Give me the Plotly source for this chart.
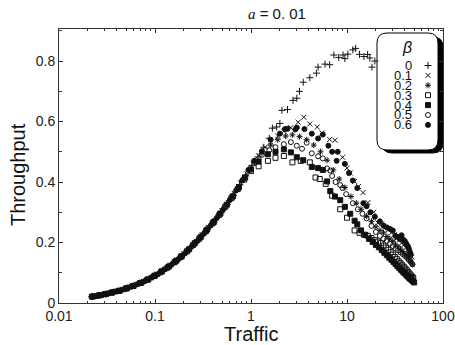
import plotly.graph_objects as go

# ---------------- data ----------------
betas = ["0", "0.1", "0.2", "0.3", "0.4", "0.5", "0.6"]
symbols = ["cross-thin", "x-thin", "asterisk", "square-open", "square", "circle-open", "circle"]

x0 = [0.022, 0.026, 0.031, 0.037, 0.044, 0.052, 0.062, 0.073, 0.087, 0.10, 0.12, 0.14, 0.165, 0.19, 0.22,
      0.26, 0.30, 0.35, 0.41, 0.48, 0.56, 0.65, 0.76, 0.88, 1.02, 1.18, 1.36, 1.55, 1.67, 1.85, 2.0, 2.1,
      2.4, 2.74, 3.0, 3.2, 3.5, 4.1, 4.8, 5.0, 5.9, 6.6, 7.3, 8.2, 9.1, 9.5, 10.2, 11.5, 12.3, 13.5, 15.0,
      16.4, 17.3, 18.2, 19.5]
y0 = [0.021, 0.025, 0.030, 0.036, 0.042, 0.050, 0.059, 0.068, 0.080, 0.092, 0.108, 0.121, 0.138, 0.156, 0.175,
      0.199, 0.221, 0.246, 0.270, 0.298, 0.327, 0.357, 0.392, 0.423, 0.455, 0.483, 0.515, 0.545, 0.578, 0.582,
      0.594, 0.637, 0.640, 0.670, 0.677, 0.700, 0.730, 0.745, 0.760, 0.780, 0.790, 0.788, 0.820, 0.812, 0.820,
      0.808, 0.823, 0.837, 0.842, 0.822, 0.815, 0.822, 0.810, 0.780, 0.800]

x1 = [0.023, 0.027, 0.032, 0.038, 0.046, 0.054, 0.064, 0.076, 0.09, 0.105, 0.125, 0.145, 0.17, 0.20, 0.23,
      0.27, 0.31, 0.36, 0.42, 0.50, 0.58, 0.67, 0.78, 0.90, 1.05, 1.20, 1.40, 1.60, 1.90, 2.2, 2.6, 3.1,
      3.55, 4.1, 4.9, 5.5, 6.6, 7.5, 9.0, 10.0, 10.8, 12.0, 13.2, 14.7, 16.5, 19.0, 21.0, 23.0, 25.0, 27.0,
      29.0, 31.0, 33.0, 35.0, 37.0, 39.0, 41.0, 43.0, 44.5, 46.0, 47.5]
y1 = [0.022, 0.026, 0.031, 0.037, 0.044, 0.052, 0.061, 0.071, 0.083, 0.095, 0.111, 0.125, 0.142, 0.163, 0.181,
      0.204, 0.226, 0.250, 0.273, 0.305, 0.332, 0.362, 0.397, 0.427, 0.462, 0.487, 0.515, 0.532, 0.552, 0.568,
      0.580, 0.598, 0.614, 0.592, 0.582, 0.562, 0.541, 0.538, 0.482, 0.446, 0.430, 0.402, 0.385, 0.365, 0.332,
      0.300, 0.265, 0.262, 0.250, 0.242, 0.232, 0.226, 0.214, 0.208, 0.198, 0.192, 0.183, 0.176, 0.168, 0.160,
      0.152]

x2 = [0.022, 0.025, 0.029, 0.034, 0.040, 0.048, 0.057, 0.068, 0.080, 0.095, 0.11, 0.13, 0.155, 0.18, 0.21,
      0.245, 0.285, 0.33, 0.39, 0.45, 0.52, 0.61, 0.71, 0.83, 0.96, 1.10, 1.30, 1.60, 1.90, 2.3, 2.7, 3.2,
      3.8, 4.5, 5.3, 6.2, 7.2, 8.3, 9.5, 11.0, 12.5, 14.0, 16.0, 18.0, 20.0, 22.0, 24.0, 26.0, 28.0, 30.0,
      32.0, 34.0, 36.0, 38.0, 40.0, 42.0, 44.0, 46.0, 48.0]
y2 = [0.020, 0.024, 0.028, 0.033, 0.039, 0.046, 0.055, 0.064, 0.074, 0.087, 0.099, 0.114, 0.132, 0.148, 0.167,
      0.189, 0.210, 0.234, 0.260, 0.285, 0.312, 0.344, 0.374, 0.410, 0.440, 0.468, 0.495, 0.522, 0.540, 0.552,
      0.556, 0.550, 0.540, 0.522, 0.500, 0.472, 0.440, 0.410, 0.382, 0.352, 0.330, 0.310, 0.287, 0.270, 0.252,
      0.240, 0.232, 0.220, 0.212, 0.204, 0.192, 0.186, 0.178, 0.170, 0.162, 0.155, 0.146, 0.138, 0.128]

x3 = [0.022, 0.026, 0.030, 0.035, 0.042, 0.050, 0.059, 0.070, 0.083, 0.098, 0.115, 0.135, 0.16, 0.185, 0.215,
      0.25, 0.29, 0.34, 0.40, 0.47, 0.54, 0.63, 0.73, 0.85, 1.00, 1.20, 1.50, 1.80, 2.2, 2.7, 3.3, 4.1,
      4.7, 5.2, 6.0, 7.0, 8.5, 10.0, 12.0, 13.5, 15.0, 16.5, 18.0, 19.5, 21.0, 22.5, 24.0, 25.5, 27.0, 28.5,
      30.0, 31.5, 33.0, 34.5, 36.0, 37.5, 39.0, 40.5, 42.0, 43.5, 45.0, 46.5, 48.0, 49.0]
y3 = [0.021, 0.025, 0.029, 0.034, 0.040, 0.048, 0.056, 0.066, 0.077, 0.089, 0.102, 0.117, 0.135, 0.152, 0.171,
      0.192, 0.213, 0.238, 0.265, 0.292, 0.318, 0.348, 0.377, 0.408, 0.436, 0.452, 0.470, 0.480, 0.486, 0.465,
      0.470, 0.465, 0.415, 0.410, 0.394, 0.355, 0.310, 0.282, 0.240, 0.232, 0.226, 0.222, 0.215, 0.208, 0.203,
      0.198, 0.190, 0.183, 0.176, 0.168, 0.160, 0.152, 0.146, 0.138, 0.132, 0.126, 0.120, 0.114, 0.108, 0.102,
      0.097, 0.091, 0.086, 0.082]

x4 = [0.023, 0.027, 0.031, 0.036, 0.043, 0.051, 0.060, 0.072, 0.085, 0.10, 0.118, 0.14, 0.165, 0.19, 0.225,
      0.26, 0.30, 0.35, 0.41, 0.48, 0.56, 0.65, 0.75, 0.87, 1.0, 1.2, 1.5, 1.8, 2.2, 2.6, 3.0, 3.5, 4.3,
      5.0, 5.6, 6.2, 6.7, 7.5, 8.5, 9.5, 10.8, 12.0, 12.8, 14.0, 15.5, 17.0, 18.5, 20.0, 21.5, 23.0, 24.5,
      26.0, 27.5, 29.0, 30.5, 32.0, 33.5, 35.0, 36.5, 38.0, 39.5, 41.0, 42.5, 44.0, 45.5, 47.0, 48.5, 50.0]
y4 = [0.022, 0.026, 0.030, 0.035, 0.041, 0.049, 0.057, 0.067, 0.078, 0.091, 0.105, 0.121, 0.139, 0.155, 0.177,
      0.198, 0.219, 0.243, 0.268, 0.296, 0.325, 0.353, 0.383, 0.415, 0.442, 0.468, 0.492, 0.500, 0.508, 0.498,
      0.482, 0.472, 0.450, 0.446, 0.440, 0.402, 0.370, 0.352, 0.340, 0.318, 0.295, 0.272, 0.260, 0.240, 0.225,
      0.212, 0.202, 0.192, 0.184, 0.175, 0.166, 0.158, 0.150, 0.143, 0.136, 0.129, 0.122, 0.116, 0.110, 0.104,
      0.099, 0.094, 0.089, 0.084, 0.080, 0.076, 0.072, 0.068]

x5 = [0.022, 0.025, 0.030, 0.036, 0.042, 0.049, 0.058, 0.069, 0.082, 0.097, 0.115, 0.135, 0.16, 0.19, 0.22,
      0.255, 0.295, 0.345, 0.40, 0.46, 0.54, 0.62, 0.72, 0.84, 0.97, 1.12, 1.30, 1.55, 1.80, 2.2, 2.6, 3.0,
      3.4, 3.8, 4.3, 5.0, 5.6, 6.2, 6.7, 7.0, 7.6, 8.5, 9.0, 9.8, 11.5, 13.0, 14.5, 16.0, 18.0, 20.0, 22.0,
      24.0, 26.0, 28.0, 30.0, 32.0, 34.0, 36.0, 38.0, 40.0, 42.0, 44.0, 46.0, 48.0]
y5 = [0.021, 0.024, 0.029, 0.035, 0.040, 0.047, 0.055, 0.065, 0.076, 0.088, 0.103, 0.117, 0.135, 0.155, 0.173,
      0.194, 0.216, 0.241, 0.266, 0.290, 0.320, 0.346, 0.376, 0.410, 0.440, 0.465, 0.490, 0.505, 0.515, 0.525,
      0.532, 0.520, 0.510, 0.530, 0.495, 0.485, 0.478, 0.445, 0.438, 0.420, 0.400, 0.390, 0.380, 0.360, 0.330,
      0.310, 0.295, 0.280, 0.255, 0.235, 0.222, 0.212, 0.205, 0.196, 0.188, 0.180, 0.174, 0.168, 0.162, 0.156,
      0.150, 0.143, 0.136, 0.128]

x6 = [0.022, 0.024, 0.028, 0.033, 0.039, 0.047, 0.056, 0.066, 0.078, 0.092, 0.108, 0.128, 0.15, 0.175, 0.205,
      0.24, 0.28, 0.325, 0.38, 0.44, 0.51, 0.60, 0.70, 0.81, 0.94, 1.08, 1.30, 1.60, 2.0, 2.26, 2.4, 2.9,
      3.0, 3.6, 4.3, 5.0, 5.6, 6.4, 7.0, 7.8, 8.0, 9.5, 10.5, 11.5, 12.8, 14.8, 16.0, 17.5, 19.5, 22.0, 24.0,
      26.0, 28.0, 30.0, 32.0, 34.0, 35.5, 37.0, 38.5, 40.0, 41.5, 43.0, 44.0, 45.0, 46.0]
y6 = [0.021, 0.023, 0.027, 0.032, 0.038, 0.045, 0.054, 0.062, 0.072, 0.084, 0.096, 0.112, 0.128, 0.145, 0.164,
      0.186, 0.207, 0.230, 0.256, 0.281, 0.308, 0.340, 0.372, 0.405, 0.440, 0.470, 0.502, 0.540, 0.560, 0.575,
      0.576, 0.574, 0.580, 0.575, 0.560, 0.544, 0.557, 0.520, 0.500, 0.470, 0.500, 0.460, 0.430, 0.405, 0.380,
      0.330, 0.320, 0.300, 0.285, 0.270, 0.256, 0.250, 0.245, 0.240, 0.222, 0.218, 0.212, 0.224, 0.210, 0.205,
      0.196, 0.188, 0.180, 0.170, 0.162]

xs = [x0, x1, x2, x3, x4, x5, x6]
ys = [y0, y1, y2, y3, y4, y5, y6]

x_tickvals = [0.01, 0.1, 1, 10, 100]
x_ticktext = ["0.01", "0.1", "1", "10", "100"]
y_tickvals = [0, 0.2, 0.4, 0.6, 0.8]
y_ticktext = ["0", "0.2", "0.4", "0.6", "0.8"]

# ---------------- layout geometry (pixels) ----------------
W, H = 455, 345
L, R, T, B = 59, 12, 29, 42
PW, PH = W - L - R, H - T - B

def px2x(p):
    return (p - L) / PW

def py2y(p):
    return (H - B - p) / PH

FONT = "Liberation Sans"
INK = "#111111"

def msize(sym):
    return 5

fig = go.Figure()
for i in range(7):
    sym = symbols[i]
    fig.add_trace(go.Scatter(
        x=xs[i], y=ys[i], mode="markers", name=betas[i], showlegend=False,
        marker=dict(symbol=sym, size=msize(sym), color=INK, line=dict(color=INK, width=1)),
    ))

# custom legend: rounded box with drop shadow
def rounded_path(x0p, y0p, x1p, y1p, r):
    pts = [
        ("M", x0p + r, y0p), ("L", x1p - r, y0p), ("Q", x1p, y0p, x1p, y0p + r),
        ("L", x1p, y1p - r), ("Q", x1p, y1p, x1p - r, y1p), ("L", x0p + r, y1p),
        ("Q", x0p, y1p, x0p, y1p - r), ("L", x0p, y0p + r), ("Q", x0p, y0p, x0p + r, y0p),
    ]
    s = ""
    for p in pts:
        cmd = p[0]
        coords = p[1:]
        parts = []
        for k in range(0, len(coords), 2):
            parts.append(f"{px2x(coords[k]):.5f},{py2y(coords[k+1]):.5f}")
        s += cmd + " " + " ".join(parts) + " "
    return s + "Z"

bx0, by0, bx1, by1 = 377, 33, 438, 150
fig.add_shape(type="path", xref="paper", yref="paper", path=rounded_path(bx0 + 5, by0 + 4, bx1 + 5, by1 + 3, 10),
              fillcolor="#000000", line=dict(color="#000000", width=1), layer="below")
fig.add_shape(type="path", xref="paper", yref="paper", path=rounded_path(bx0, by0, bx1, by1, 10),
              fillcolor="white", line=dict(color="#000000", width=1), layer="below")

def ann(xp, yp, text, size, xanchor="center", **kw):
    return dict(x=px2x(xp), y=py2y(yp), xref="paper", yref="paper", text=text,
                xanchor=xanchor, yanchor="middle", showarrow=False,
                font=dict(family=FONT, size=size, color=INK), **kw)

annotations = []
annotations.append(ann(407, 47, "<i>β</i>", 16))
row0, step = 65.5, 9.9
leg_x, leg_y = [], []
for i, b in enumerate(betas):
    yy = row0 + i * step
    annotations.append(ann(414, yy, b, 13, xanchor="right"))
    leg_x.append(px2x(428))
    leg_y.append(py2y(yy))
for i in range(7):
    sym = symbols[i]
    fig.add_trace(go.Scatter(
        x=[leg_x[i]], y=[leg_y[i]], xaxis="x2", yaxis="y2", mode="markers", showlegend=False,
        cliponaxis=False,
        marker=dict(symbol=sym, size=msize(sym), color=INK, line=dict(color=INK, width=1)),
    ))

# title and axis titles
annotations.append(ann(277, 13, "<span style=\"font-family:'Liberation Serif'\"><i>a</i></span> = 0. 01", 15))
annotations.append(ann(251, 334, "Traffic", 20))
annotations.append(ann(18, 175, "Throughput", 20, textangle=-90))

minor_x = [m * 10 ** e for e in (-2, -1, 0, 1) for m in range(2, 10)]

fig.update_layout(
    width=W, height=H, margin=dict(l=L, r=R, t=T, b=B, autoexpand=False),
    paper_bgcolor="white", plot_bgcolor="white",
    showlegend=False,
    annotations=annotations,
    xaxis=dict(type="log", range=[-2, 2], tickvals=x_tickvals, ticktext=x_ticktext,
               automargin=False,
               ticks="inside", ticklen=4, tickwidth=1, tickcolor="#333",
               minor=dict(tickvals=minor_x, ticks="inside", ticklen=2, tickcolor="#333", showgrid=False),
               showline=True, linecolor="#333", linewidth=1, mirror="ticks",
               showgrid=False, zeroline=False,
               tickfont=dict(family=FONT, size=14, color="#222")),
    yaxis=dict(range=[0, 0.906], tickvals=y_tickvals, ticktext=y_ticktext,
               automargin=False,
               ticks="inside", ticklen=4, tickwidth=1, tickcolor="#333",
               minor=dict(dtick=0.1, ticks="inside", ticklen=3, tickcolor="#333", showgrid=False),
               showline=True, linecolor="#333", linewidth=1, mirror="ticks",
               showgrid=False, zeroline=False,
               tickfont=dict(family=FONT, size=14, color="#222")),
    xaxis2=dict(range=[0, 1], overlaying="x", anchor="y2", visible=False),
    yaxis2=dict(range=[0, 1], overlaying="y", anchor="x2", visible=False),
)

fig.write_html("out.html")
